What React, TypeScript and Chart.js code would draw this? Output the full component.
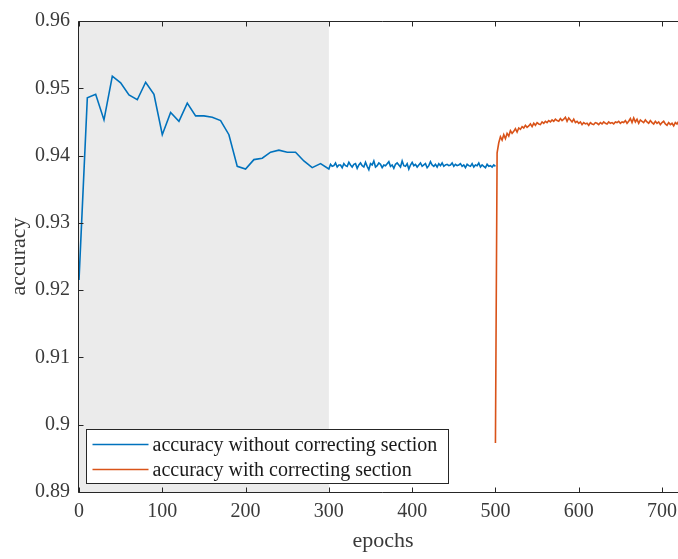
import React, { useEffect, useRef } from "react";
import { Chart, registerables } from "chart.js";

Chart.register(...registerables);

// ---- data ----
// accuracy without correcting section: coarse part, every 10 epochs from 0 to 300
const blueCoarseEpochStep = 10;
const blueCoarse = [
  0.9215, 0.9486, 0.9491, 0.9453, 0.9518, 0.9508, 0.949, 0.9483, 0.9509, 0.9491,
  0.9431, 0.9464, 0.9451, 0.9478, 0.9459, 0.9459, 0.9457, 0.9452, 0.9431, 0.9384,
  0.938, 0.9394, 0.9396, 0.9405, 0.9408, 0.9405, 0.9405, 0.9392, 0.9382, 0.9388,
  0.938,
];
// fine part, every 2 epochs from 302 to 500
const blueFineStart = 302;
const blueFineStep = 2;
const blueFine = [
  0.9387, 0.9384, 0.9385, 0.9389, 0.9383, 0.9386, 0.9386, 0.9382, 0.9388, 0.9385,
  0.9384, 0.939, 0.9386, 0.9383, 0.9387, 0.9388, 0.9381, 0.9386, 0.9389, 0.9385,
  0.9383, 0.939, 0.9384, 0.9379, 0.9388, 0.9386, 0.9392, 0.9383, 0.9385, 0.9389,
  0.9387, 0.9382, 0.9386, 0.9385, 0.9388, 0.9391, 0.9384, 0.9386, 0.9381, 0.9387,
  0.9389, 0.9386, 0.9383, 0.9392, 0.9385, 0.9384, 0.9388, 0.938, 0.9386, 0.939,
  0.9385, 0.9387, 0.9383, 0.9386, 0.9389, 0.9384, 0.9386, 0.9388, 0.9382, 0.9385,
  0.9391, 0.9386, 0.9384, 0.9387, 0.9383, 0.9388, 0.9385, 0.9389, 0.9384, 0.9386,
  0.9387, 0.9385, 0.9386, 0.9389, 0.9384, 0.9387, 0.9385, 0.9386, 0.9388, 0.9384,
  0.9386, 0.9382, 0.9387, 0.9385, 0.9384, 0.9388, 0.9383, 0.9386, 0.9385, 0.9389,
  0.9383, 0.9386, 0.9384, 0.9382, 0.9387, 0.9384, 0.9385, 0.9383, 0.9386, 0.9384,
];
// accuracy with correcting section, every 2 epochs from 500
const orangeStart = 500;
const orangeStep = 2;
const orangeValues = [
  0.8973, 0.9404, 0.9419, 0.9428, 0.9423, 0.9431, 0.9425, 0.9433, 0.9429, 0.9437,
  0.9433, 0.9436, 0.944, 0.9435, 0.9441, 0.9439, 0.9443, 0.9441, 0.9445, 0.9442,
  0.9444, 0.9447, 0.9443, 0.9448, 0.9445, 0.9449, 0.9447, 0.9446, 0.945, 0.9448,
  0.9451, 0.9449, 0.9452, 0.945, 0.9453, 0.9451, 0.9454, 0.9452, 0.9451, 0.9455,
  0.9452, 0.9454, 0.9457, 0.9451, 0.9456, 0.9453, 0.945, 0.9454, 0.9449, 0.9451,
  0.9448, 0.945, 0.9446, 0.9449, 0.9447, 0.9448, 0.9445, 0.9449, 0.9447, 0.9446,
  0.9449, 0.9448, 0.9446, 0.9449, 0.9447, 0.945, 0.9448, 0.9447, 0.945, 0.9448,
  0.9449, 0.9447, 0.945, 0.9449, 0.9451, 0.9448, 0.945, 0.9449, 0.9452, 0.9448,
  0.9451, 0.9455, 0.9449, 0.9456, 0.945, 0.9454, 0.9448, 0.9453, 0.9451, 0.9449,
  0.9453, 0.945, 0.9448, 0.9452, 0.9449, 0.9447, 0.9451, 0.9448, 0.945, 0.9446,
  0.9449, 0.9451, 0.9447, 0.9445, 0.9449, 0.9446, 0.9448, 0.9444, 0.9449, 0.9447,
  0.9451, 0.9448, 0.945, 0.9446, 0.9449, 0.9448,
];

const seriesLabels = [
  "accuracy without correcting section",
  "accuracy with correcting section",
];
const seriesColors = ["#0072BD", "#D95319"];

const xTicks = [0, 100, 200, 300, 400, 500, 600, 700];
const yTicks = [0.89, 0.9, 0.91, 0.92, 0.93, 0.94, 0.95, 0.96];
const yTickLabels = ["0.89", "0.9", "0.91", "0.92", "0.93", "0.94", "0.95", "0.96"];
const shadeRange = [0, 300];
const xRange = [0, 730];
const xTitle = "epochs";
const yTitle = "accuracy";

const FONT = "'Liberation Serif', 'Times New Roman', serif";
const AXIS_COLOR = "#262626";
const TEXT_COLOR = "#3a3a3a";

const decorPlugin = {
  id: "decor",
  beforeDatasetsDraw(chart: any) {
    const { ctx, chartArea, scales } = chart;
    const x0 = scales.x.getPixelForValue(shadeRange[0]);
    const x1 = scales.x.getPixelForValue(shadeRange[1]);
    ctx.save();
    ctx.fillStyle = "#ebebeb";
    ctx.fillRect(x0, chartArea.top, x1 - x0, chartArea.bottom - chartArea.top);
    ctx.restore();
  },
  afterDatasetsDraw(chart: any) {
    const { ctx, chartArea, scales } = chart;
    const { left, right, top, bottom } = chartArea;
    ctx.save();
    ctx.strokeStyle = AXIS_COLOR;
    ctx.lineWidth = 1;
    ctx.beginPath();
    const L = Math.round(left) - 0.5;
    const B = Math.round(bottom) + 0.5;
    const T = Math.round(top) + 0.5;
    ctx.moveTo(L, T);
    ctx.lineTo(L, B);
    ctx.lineTo(right, B);
    ctx.moveTo(L, T);
    ctx.lineTo(right, T);
    // x ticks inward (bottom & top)
    scales.x.ticks.forEach((t: any) => {
      const px = Math.round(scales.x.getPixelForValue(t.value)) + 0.5;
      ctx.moveTo(px, B);
      ctx.lineTo(px, B - 5);
      ctx.moveTo(px, T);
      ctx.lineTo(px, T + 5);
    });
    scales.y.ticks.forEach((t: any) => {
      const py = Math.round(scales.y.getPixelForValue(t.value)) + 0.5;
      ctx.moveTo(L, py);
      ctx.lineTo(L + 5, py);
    });
    ctx.stroke();

    // legend
    const bx = Math.round(left) + 7 + 0.5;
    const bw = 362;
    const bh = 54;
    const by = Math.round(bottom) - 9 - bh + 0.5;
    ctx.fillStyle = "#ffffff";
    ctx.fillRect(bx, by, bw, bh);
    ctx.strokeStyle = AXIS_COLOR;
    ctx.strokeRect(bx, by, bw, bh);
    ctx.font = `20px ${FONT}`;
    ctx.textBaseline = "middle";
    ctx.textAlign = "left";
    chart.data.datasets.forEach((ds: any, i: number) => {
      const ry = by + 15 + i * 25;
      ctx.strokeStyle = ds.borderColor;
      ctx.lineWidth = 1.3;
      ctx.beginPath();
      ctx.moveTo(bx + 6, ry);
      ctx.lineTo(bx + 62, ry);
      ctx.stroke();
      ctx.fillStyle = "#1a1a1a";
      ctx.fillText(ds.label, bx + 66, ry + 1);
    });
    ctx.restore();
  },
};

export default function App() {
  const canvasRef = useRef<HTMLCanvasElement | null>(null);

  useEffect(() => {
    if (!canvasRef.current) return;
    const blueData = [
      ...blueCoarse.map((v, i) => ({ x: i * blueCoarseEpochStep, y: v })),
      ...blueFine.map((v, i) => ({ x: blueFineStart + i * blueFineStep, y: v })),
    ];
    const orangeData = orangeValues.map((v, i) => ({ x: orangeStart + i * orangeStep, y: v }));

    const chart = new Chart(canvasRef.current, {
      type: "line",
      data: {
        datasets: [
          {
            label: seriesLabels[0],
            data: blueData,
            borderColor: seriesColors[0],
            borderWidth: 1.6,
            pointRadius: 0,
            tension: 0,
            fill: false,
          },
          {
            label: seriesLabels[1],
            data: orangeData,
            borderColor: seriesColors[1],
            borderWidth: 1.6,
            pointRadius: 0,
            tension: 0,
            fill: false,
          },
        ],
      },
      options: {
        animation: false,
        responsive: false,
        maintainAspectRatio: false,
        layout: { padding: { top: 13, left: 0, right: 0, bottom: 0 } },
        plugins: { legend: { display: false }, tooltip: { enabled: false } },
        scales: {
          x: {
            type: "linear",
            min: xRange[0],
            max: xRange[1],
            grid: { display: false, drawTicks: false },
            border: { display: false },
            afterBuildTicks: (s: any) => {
              s.ticks = xTicks.map((v) => ({ value: v }));
            },
            afterFit: (s: any) => {
              s.height = 67;
            },
            ticks: {
              padding: 8,
              color: TEXT_COLOR,
              font: { family: FONT, size: 20 },
              maxRotation: 0,
              callback: (v: any) => String(v),
            },
            title: {
              display: true,
              text: xTitle,
              color: TEXT_COLOR,
              font: { family: FONT, size: 22 },
              padding: { top: 0, bottom: 5 },
            },
          },
          y: {
            type: "linear",
            min: yTicks[0],
            max: yTicks[yTicks.length - 1],
            grid: { display: false, drawTicks: false },
            border: { display: false },
            afterBuildTicks: (s: any) => {
              s.ticks = yTicks.map((v) => ({ value: v }));
            },
            afterFit: (s: any) => {
              s.width = 79;
            },
            ticks: {
              padding: 9,
              color: TEXT_COLOR,
              font: { family: FONT, size: 20 },
              callback: (_v: any, i: number) => yTickLabels[i],
            },
            title: {
              display: true,
              text: yTitle,
              color: TEXT_COLOR,
              font: { family: FONT, size: 22 },
              padding: { top: 6, bottom: 0 },
            },
          },
        },
      },
      plugins: [decorPlugin],
    });
    return () => chart.destroy();
  }, []);

  return (
    <div
      style={{
        position: "fixed",
        left: 0,
        top: 0,
        width: 678,
        height: 559,
        overflow: "hidden",
        background: "#ffffff",
      }}
    >
      <canvas ref={canvasRef} width={687} height={559} style={{ display: "block" }} />
    </div>
  );
}
